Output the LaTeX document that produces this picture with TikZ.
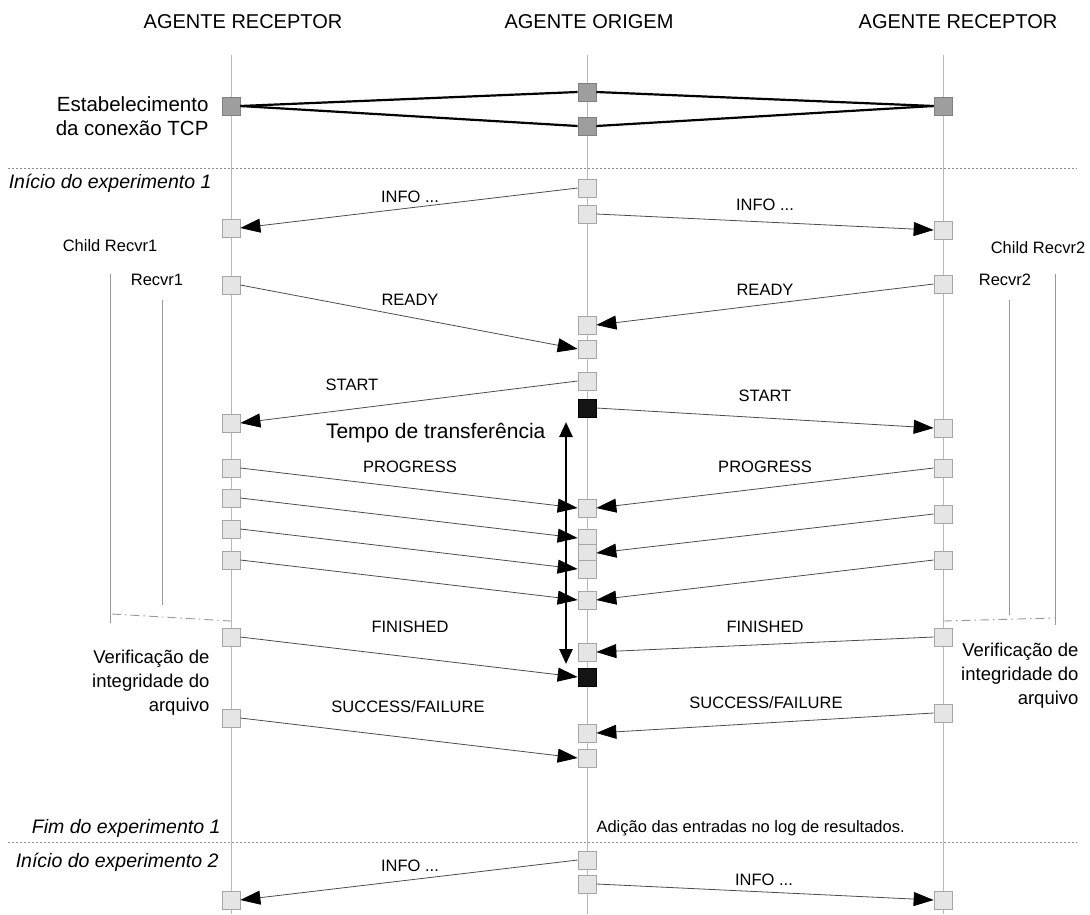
\documentclass[tikz,border=0pt]{standalone}
\usepackage{fontspec}
\setmainfont{Liberation Sans}
\usetikzlibrary{positioning}
\usetikzlibrary{arrows.meta}

\tikzset{
  pkt/.style={draw=black!35, fill=black!10, minimum size=18pt, inner sep=0pt, line width=0.7pt},
  tcpbox/.style={pkt, fill=black!38, draw=black!50},
  blkbox/.style={pkt, fill=black!92, draw=black},
  life/.style={draw=black!28, line width=0.9pt},
  msg/.style={draw=black!70, line width=0.8pt, -{Triangle[length=20pt,width=14pt,black]}},
  tcpline/.style={draw=black, line width=2.2pt},
  sep/.style={draw=black!45, line width=0.7pt, dash pattern=on 2pt off 2pt},
  brk/.style={draw=black!40, line width=0.9pt},
  brkjoin/.style={draw=black!40, line width=0.9pt, dash pattern=on 9pt off 4pt on 1.5pt off 4pt},
  lbl/.style={font=\fontsize{16.5}{19}\selectfont},
  head/.style={font=\fontsize{20}{23}\selectfont},
  big/.style={font=\fontsize{20.5}{24}\selectfont, align=right},
  expt/.style={font=\fontsize{19.5}{22}\selectfont\itshape, anchor=east},
  note/.style={font=\fontsize{18.5}{24}\selectfont, align=right}
}

\begin{document}
\begin{tikzpicture}[x=1pt,y=-1pt]
  \useasboundingbox (0,0) rectangle (1090,914);

    \node[head] (hl) at (243,22) {AGENTE RECEPTOR};
    \node[head] (hm) at (589,22) {AGENTE ORIGEM};
    \node[head] (hr) at (958,22) {AGENTE RECEPTOR};

    \coordinate (ltop) at (231,55);  \coordinate (lbot) at (231,914);
    \coordinate (mtop) at (587,55);  \coordinate (mbot) at (587,914);
    \coordinate (rtop) at (943,55);  \coordinate (rbot) at (943,914);
    \draw[life] (ltop) -- (lbot);
    \draw[life] (mtop) -- (mbot);
    \draw[life] (rtop) -- (rbot);

    \coordinate (s1a) at (8,168);   \coordinate (s1b) at (1077,168);
    \coordinate (s2a) at (8,842);   \coordinate (s2b) at (1077,842);
    \draw[sep] (s1a) -- (s1b);
    \draw[sep] (s2a) -- (s2b);

    \coordinate (lo1) at (110,274);  \coordinate (lo2) at (110,623);
    \coordinate (li1) at (162,300);  \coordinate (li2) at (162,605);
    \coordinate (lj1) at (112,614);  \coordinate (lj2) at (231,621);
    \coordinate (ro1) at (1055,274); \coordinate (ro2) at (1055,625);
    \coordinate (ri1) at (1009,300); \coordinate (ri2) at (1009,615);
    \coordinate (rj1) at (943,621);  \coordinate (rj2) at (1055,618);
    \draw[brk] (lo1) -- (lo2);
    \draw[brk] (li1) -- (li2);
    \draw[brkjoin] (lj1) -- (lj2);
    \draw[brk] (ro1) -- (ro2);
    \draw[brk] (ri1) -- (ri2);
    \draw[brkjoin] (rj1) -- (rj2);

    \node[big, anchor=east] (estab) at (212,116) {Estabelecimento\\da conexão TCP};
    \node[tcpbox] (lt) at (231,106) {};
    \node[tcpbox] (mt1) at (587,92) {};
    \node[tcpbox] (mt2) at (587,126) {};
    \node[tcpbox] (rt) at (943,106) {};
    \draw[tcpline] (lt.east) -- (mt1.west);
    \draw[tcpline] (lt.east) -- (mt2.west);
    \draw[tcpline] (mt1.east) -- (rt.west);
    \draw[tcpline] (mt2.east) -- (rt.west);

    \node[expt] (ini1) at (215,183) {Início do experimento 1};

    \node[pkt] (l1) at (231,228) {};
    \node[pkt] (l2) at (231,285) {};
    \node[pkt] (l3) at (231,423) {};
    \node[pkt] (l4) at (231,468) {};
    \node[pkt] (l5) at (231,498) {};
    \node[pkt] (l6) at (231,529) {};
    \node[pkt] (l7) at (231,560) {};
    \node[pkt] (l8) at (231,637) {};
    \node[pkt] (l9) at (231,718) {};
    \node[pkt] (l10) at (231,900) {};

    \node[pkt] (m1) at (587,188) {};
    \node[pkt] (m2) at (587,214) {};
    \node[pkt] (m3) at (587,325) {};
    \node[pkt] (m4) at (587,349) {};
    \node[pkt] (m5) at (587,381) {};
    \node[blkbox] (m6) at (587,408) {};
    \node[pkt] (m7) at (587,508) {};
    \node[pkt] (m8) at (587,538) {};
    \node[pkt] (m9) at (587,553) {};
    \node[pkt] (m10) at (587,569) {};
    \node[pkt] (m11) at (587,600) {};
    \node[pkt] (m12) at (587,652) {};
    \node[blkbox] (m13) at (587,677) {};
    \node[pkt] (m14) at (587,733) {};
    \node[pkt] (m15) at (587,758) {};
    \node[pkt] (m16) at (587,860) {};
    \node[pkt] (m17) at (587,884) {};

    \node[pkt] (r1) at (943,230) {};
    \node[pkt] (r2) at (943,284) {};
    \node[pkt] (r3) at (943,428) {};
    \node[pkt] (r4) at (943,468) {};
    \node[pkt] (r5) at (943,514) {};
    \node[pkt] (r6) at (943,560) {};
    \node[pkt] (r7) at (943,637) {};
    \node[pkt] (r8) at (943,713) {};
    \node[pkt] (r9) at (943,900) {};

    \draw[msg] (m1.west) -- (l1.east);
    \draw[msg] (m2.east) -- (r1.west);
    \draw[msg] (l2.east) -- (m4.west);
    \draw[msg] (r2.west) -- (m3.east);
    \draw[msg] (m5.west) -- (l3.east);
    \draw[msg] (m6.east) -- (r3.west);
    \draw[msg] (l4.east) -- (m7.west);
    \draw[msg] (l5.east) -- (m8.west);
    \draw[msg] (l6.east) -- (m10.west);
    \draw[msg] (l7.east) -- (m11.west);
    \draw[msg] (r4.west) -- (m7.east);
    \draw[msg] (r5.west) -- (m9.east);
    \draw[msg] (r6.west) -- (m11.east);
    \draw[msg] (l8.east) -- (m13.west);
    \draw[msg] (r7.west) -- (m12.east);
    \draw[msg] (l9.east) -- (m15.west);
    \draw[msg] (r8.west) -- (m14.east);
    \draw[msg] (m16.west) -- (l10.east);
    \draw[msg] (m17.east) -- (r9.west);

    \node[lbl] (tinfo1) at (410,197) {INFO ...};
    \node[lbl] (tinfo2) at (765,205) {INFO ...};
    \node[lbl] (tcr1) at (110,246) {Child Recvr1};
    \node[lbl] (tcr2) at (1038,248) {Child Recvr2};
    \node[lbl] (tr1) at (157,280) {Recvr1};
    \node[lbl] (tr2) at (1005,280) {Recvr2};
    \node[lbl] (tready1) at (410,300) {READY};
    \node[lbl] (tready2) at (765,290) {READY};
    \node[lbl] (tstart1) at (352,385) {START};
    \node[lbl] (tstart2) at (765,396) {START};
    \node[lbl] (tprog1) at (410,467) {PROGRESS};
    \node[lbl] (tprog2) at (765,467) {PROGRESS};
    \node[lbl] (tfin1) at (410,627) {FINISHED};
    \node[lbl] (tfin2) at (765,627) {FINISHED};
    \node[lbl] (tsf1) at (408,707) {SUCCESS/FAILURE};
    \node[lbl] (tsf2) at (766,703) {SUCCESS/FAILURE};
    \node[lbl] (tinfo3) at (410,866) {INFO ...};
    \node[lbl] (tinfo4) at (764,880) {INFO ...};

    \node[font=\fontsize{21}{24}\selectfont, anchor=east] (tempo) at (549,433) {Tempo de transferência};
    \coordinate (ta) at (566,422);
    \coordinate (tb) at (566,664);
    \draw[line width=2.6pt, {Triangle[length=15pt,width=13pt]}-{Triangle[length=15pt,width=13pt]}] (ta) -- (tb);

    \node[note, anchor=north east] (ver1) at (213,647) {Verificação de\\integridade do\\arquivo};
    \node[note, anchor=north east] (ver2) at (1082,640) {Verificação de\\integridade do\\arquivo};

    \node[expt] (fim1) at (224,828) {Fim do experimento 1};
    \node[lbl, anchor=west] (adic) at (593,828) {Adição das entradas no log de resultados.};
    \node[expt] (ini2) at (222,862) {Início do experimento 2};

\end{tikzpicture}
\end{document}
